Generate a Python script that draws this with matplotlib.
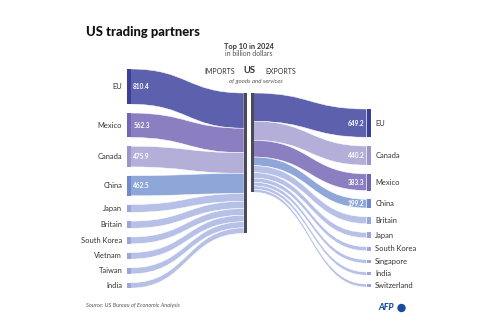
import matplotlib

matplotlib.use("Agg")
import matplotlib.pyplot as plt  # noqa: E402
from matplotlib.path import Path  # noqa: E402
from matplotlib.patches import PathPatch, Rectangle, Circle  # noqa: E402

# --- data (billion dollars, 2024) ---
IMPORT_NAMES = ["EU", "Mexico", "Canada", "China", "Japan", "Britain",
                "South Korea", "Vietnam", "Taiwan", "India"]
IMPORT_VALUES = [810.4, 562.3, 475.9, 462.5, 180, 165, 155, 150, 140, 125]
EXPORT_NAMES = ["EU", "Canada", "Mexico", "China", "Britain", "Japan",
                "South Korea", "Singapore", "India", "Switzerland"]
EXPORT_VALUES = [649.2, 440.2, 383.3, 199.2, 160, 125, 95, 85, 75, 70]
LABELLED = {"EU", "Mexico", "Canada", "China"}

# --- styling ---
FLOW_COLORS = {"EU": "#5d61ad", "Mexico": "#8c7fc1", "Canada": "#b3afd9",
               "China": "#8fa6d9"}
NODE_COLORS = {"EU": "#3c3f94", "Mexico": "#7465b3", "Canada": "#9a96cb",
               "China": "#7189cc"}
OTHER_FLOW = "#b7c0e6"
OTHER_NODE = "#9ba7dc"
BAR_COLOR = "#4b4b55"
TEXT = "#333333"
FONT = ["Lato", "DejaVu Sans"]

# layout in pixel units (axes = whole figure, 1 unit = 1 px)
SCALE = 0.0435          # px per billion
GAP = 8.75
LEFT_TOP, RIGHT_TOP, CENTER_TOP = 69.0, 109.0, 93.0
LEFT_NODE_X = (126.7, 130.7)
RIGHT_NODE_X = (366.7, 370.7)
CENTER_L_X = (244.0, 247.0)
CENTER_R_X = (250.5, 253.5)

plt.rcParams["font.family"] = FONT


def _ribbon(ax, xa, ya0, ya1, xb, yb0, yb1, color):
    xm = (xa + xb) / 2
    verts = [(xa, ya0), (xm, ya0), (xm, yb0), (xb, yb0),
             (xb, yb1), (xm, yb1), (xm, ya1), (xa, ya1), (xa, ya0)]
    codes = [Path.MOVETO, Path.CURVE4, Path.CURVE4, Path.CURVE4,
             Path.LINETO, Path.CURVE4, Path.CURVE4, Path.CURVE4, Path.CLOSEPOLY]
    ax.add_patch(PathPatch(Path(verts, codes), facecolor=color,
                           edgecolor="white", lw=0.35))


def _side(ax, names, values, top, left_side):
    y = top
    yc = CENTER_TOP
    for name, v in zip(names, values):
        h = v * SCALE
        flow_c = FLOW_COLORS.get(name, OTHER_FLOW)
        node_c = NODE_COLORS.get(name, OTHER_NODE)
        if left_side:
            _ribbon(ax, LEFT_NODE_X[1], y, y + h, CENTER_L_X[0], yc, yc + h, flow_c)
            ax.add_patch(Rectangle((LEFT_NODE_X[0], y), LEFT_NODE_X[1] - LEFT_NODE_X[0],
                                   h, color=node_c, lw=0))
            ax.text(LEFT_NODE_X[0] - 4.5, y + h / 2, name, ha="right", va="center",
                    fontsize=5.4, color=TEXT)
            if name in LABELLED:
                ax.text(LEFT_NODE_X[1] + 2.5, y + h / 2, f"{v:.1f}", ha="left",
                        va="center", fontsize=4.7, color="white", weight="bold")
        else:
            _ribbon(ax, CENTER_R_X[1], yc, yc + h, RIGHT_NODE_X[0], y, y + h, flow_c)
            ax.add_patch(Rectangle((RIGHT_NODE_X[0], y), RIGHT_NODE_X[1] - RIGHT_NODE_X[0],
                                   h, color=node_c, lw=0))
            ax.text(RIGHT_NODE_X[1] + 4.5, y + h / 2, name, ha="left", va="center",
                    fontsize=5.4, color=TEXT)
            if name in LABELLED:
                ax.text(RIGHT_NODE_X[0] - 2.5, y + h / 2, f"{v:.1f}", ha="right",
                        va="center", fontsize=4.7, color="white", weight="bold")
        y += h + GAP
        yc += h
    return yc


fig = plt.figure(figsize=(5, 3.34), dpi=100)
ax = fig.add_axes([0, 0, 1, 1])
ax.set_xlim(0, 500)
ax.set_ylim(334, 0)
ax.axis("off")

yl = _side(ax, IMPORT_NAMES, IMPORT_VALUES, LEFT_TOP, True)
yr = _side(ax, EXPORT_NAMES, EXPORT_VALUES, RIGHT_TOP, False)
ax.add_patch(Rectangle((CENTER_L_X[0], CENTER_TOP), CENTER_L_X[1] - CENTER_L_X[0],
                       yl - CENTER_TOP, color=BAR_COLOR, lw=0))
ax.add_patch(Rectangle((CENTER_R_X[0], CENTER_TOP), CENTER_R_X[1] - CENTER_R_X[0],
                       yr - CENTER_TOP, color=BAR_COLOR, lw=0))

# texts
ax.text(86, 32, "US trading partners", fontsize=9.4, weight="black",
        color="#111111", va="center", ha="left")
ax.text(249, 46, "Top 10 in 2024", fontsize=5.3, weight="bold", color=TEXT,
        ha="center", va="center")
ax.text(249, 54, "in billion dollars", fontsize=5, color="#555555",
        ha="center", va="center")
ax.text(235, 71, "IMPORTS", fontsize=5, color=TEXT, ha="right", va="center")
ax.text(249, 70.5, "US", fontsize=6.8, weight="bold", color=TEXT,
        ha="center", va="center")
ax.text(265, 71, "EXPORTS", fontsize=5, color=TEXT, ha="left", va="center")
ax.text(256, 81, "of goods and services", fontsize=4.4, style="italic",
        color="#555555", ha="center", va="center")
ax.text(86, 306, "Source: US Bureau of Economic Analysis", fontsize=4.1,
        style="italic", color="#555555", ha="left", va="center")
ax.text(393.5, 308, "AFP", fontsize=6.3, weight="black", style="italic",
        color="#1a4c9e", ha="right", va="center")
ax.add_patch(Circle((401.5, 308), 4.2, color="#1a4c9e", lw=0))

fig.savefig("out.png", dpi=100)
